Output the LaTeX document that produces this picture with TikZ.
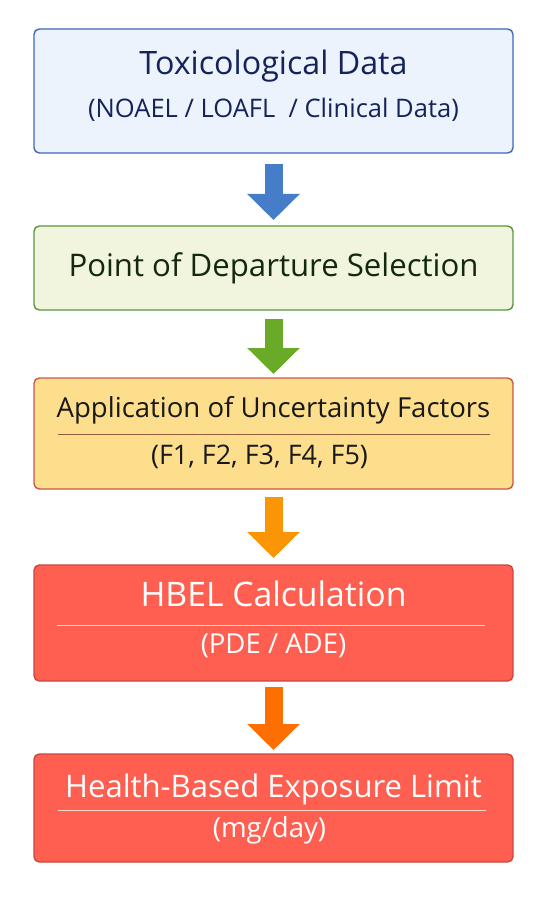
\documentclass[tikz,border=0pt]{standalone}
\usepackage{fontspec}
\setsansfont{Open Sans}
\usetikzlibrary{arrows.meta,positioning,calc}
\definecolor{navy}{RGB}{20,35,90}
\definecolor{pale blue}{RGB}{236,243,252}
\definecolor{edge blue}{RGB}{60,105,185}
\definecolor{pale green}{RGB}{241,245,222}
\definecolor{edge green}{RGB}{90,150,60}
\definecolor{dark green}{RGB}{20,40,15}
\definecolor{soft gold}{RGB}{253,222,140}
\definecolor{edge gold}{RGB}{205,85,70}
\definecolor{rule gold}{RGB}{150,90,60}
\definecolor{hot red}{RGB}{255,95,80}
\definecolor{edge red}{RGB}{205,70,60}
\definecolor{rule red}{RGB}{255,215,205}
\definecolor{ablue}{RGB}{70,125,200}
\definecolor{agreen}{RGB}{105,170,40}
\definecolor{aorange}{RGB}{250,150,5}
\definecolor{adeep}{RGB}{255,110,0}

\begin{document}
\begin{tikzpicture}[
  font=\sffamily,
  box/.style={draw=#1, rounded corners=4.5pt, line width=1.2pt, minimum width=14.37cm, inner sep=0pt, outer sep=0pt},
  title/.style={anchor=base, inner sep=0pt, font=\sffamily\fontsize{#1}{#1}\selectfont},
  sub/.style={anchor=base, inner sep=0pt, font=\sffamily\fontsize{#1}{#1}\selectfont},
  rule/.style={draw=#1, line width=0.8pt},
  flow/.style={draw=#1, line width=0.54cm, line cap=butt, -{Triangle[length=0.78cm,width=1.53cm,fill=#1]}}
]

% Frame
\useasboundingbox (0,0) rectangle (16.62,-27);

% Boxes
\node[box=edge blue, fill=pale blue, minimum height=3.72cm, anchor=north west] (b1) at (1.02,-0.87) {};
\node[box=edge green, fill=pale green, minimum height=2.52cm, below=2.19cm of b1] (b2) {};
\node[box=edge gold, fill=soft gold, minimum height=3.33cm, below=2.04cm of b2] (b3) {};
\node[box=edge red, fill=hot red, minimum height=3.48cm, below=2.28cm of b3] (b4) {};
\node[box=edge red, fill=hot red, minimum height=3.24cm, below=2.19cm of b4] (b5) {};

% Texts
\node[title=27.5, text=navy] (t1) at ([yshift=-1.38cm]b1.north) {Toxicological Data};
\node[sub=21.8, text=navy] (s1) at ([yshift=-2.67cm]b1.north) {(NOAEL / LOAFL \ / Clinical Data)};
\node[title=26.6, text=dark green] (t2) at ([yshift=-1.5cm]b2.north) {Point of Departure Selection};
\node[title=23.5, text=black!90] (t3) at ([yshift=-1.17cm]b3.north) {Application of Uncertainty Factors};
\node[sub=23, text=black!90] (s3) at ([xshift=-0.42cm,yshift=-2.58cm]b3.north) {(F1, F2, F3, F4, F5)};
\node[title=28.8, text=white] (t4) at ([yshift=-1.23cm]b4.north) {HBEL Calculation};
\node[sub=23.5, text=white] (s4) at ([yshift=-2.64cm]b4.north) {(PDE / ADE)};
\node[title=26.5, text=white] (t5) at ([yshift=-1.29cm]b5.north) {Health-Based Exposure Limit};
\node[sub=23.5, text=white] (s5) at ([xshift=-0.12cm,yshift=-2.49cm]b5.north) {(mg/day)};

% Rules
\draw[rule=rule gold] ([xshift=0.72cm,yshift=-1.68cm]b3.north west) -- ([xshift=-0.69cm,yshift=-1.68cm]b3.north east);
\draw[rule=rule red] ([xshift=0.69cm,yshift=-1.8cm]b4.north west) -- ([xshift=-0.84cm,yshift=-1.8cm]b4.north east);
\draw[rule=rule red] ([xshift=0.72cm,yshift=-1.68cm]b5.north west) -- ([xshift=-0.81cm,yshift=-1.68cm]b5.north east);

% Arrows
\draw[flow=ablue] ([yshift=-0.33cm]b1.south) -- ([yshift=0.18cm]b2.north);
\draw[flow=agreen] ([yshift=-0.27cm]b2.south) -- ([yshift=0.12cm]b3.north);
\draw[flow=aorange] ([yshift=-0.24cm]b3.south) -- ([yshift=0.21cm]b4.north);
\draw[flow=adeep] ([yshift=-0.18cm]b4.south) -- ([yshift=0.12cm]b5.north);

\end{tikzpicture}
\end{document}
